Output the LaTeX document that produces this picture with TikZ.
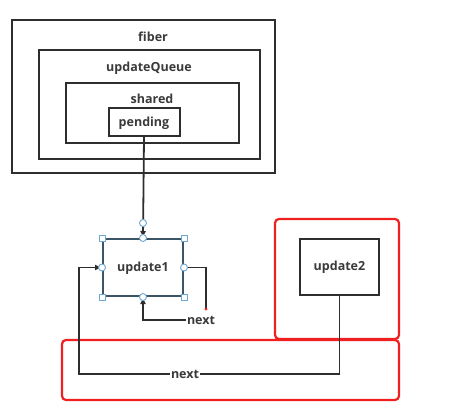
\documentclass[tikz,border=0pt]{standalone}
\usepackage{fontspec}
\setmainfont{Open Sans}
\usepackage{xcolor}
\usetikzlibrary{arrows.meta}
\definecolor{boxgray}{HTML}{2E2E2E}
\definecolor{txtgray}{HTML}{3A3A3A}
\definecolor{selblue}{HTML}{3B5566}
\definecolor{handleblue}{HTML}{6FA8D0}
\definecolor{hlred}{HTML}{F02020}

\begin{document}
\begin{tikzpicture}[x=1pt,y=-1pt,>={Latex[length=7pt,width=6pt]},
    box/.style={draw=boxgray,line width=2pt,inner sep=0pt},
    txt/.style={font=\bfseries\fontsize{12.5}{14}\selectfont,text=txtgray,inner sep=1pt},
    link/.style={draw=boxgray,line width=1.8pt},
    hsq/.style={draw=handleblue,fill=white,line width=0.9pt,minimum size=6pt,inner sep=0pt},
    hci/.style={circle,draw=handleblue,fill=white,line width=0.9pt,minimum size=7pt,inner sep=0pt},
    frame/.style={draw=hlred,line width=2.2pt,rounded corners=4pt,inner sep=0pt}]
        \useasboundingbox (0,0) rectangle (458,410);

        % nested boxes
        \node[box,minimum width=263pt,minimum height=153pt] (fiber) at (143.5,96.5) {};
        \node[box,minimum width=221pt,minimum height=109pt] (queue) at (149.5,104.5) {};
        \node[box,minimum width=173pt,minimum height=60pt] (shared) at (152.5,113) {};
        \node[box,minimum width=71pt,minimum height=28pt] (pending) at (144,122) {};
        \node[txt] (fiberlbl) at (153,37) {fiber};
        \node[txt] (queuelbl) at (149,68) {updateQueue};
        \node[txt] (sharedlbl) at (152,99) {shared};
        \node[txt] (pendinglbl) at (144,123) {pending};

        % highlight frames
        \node[frame,minimum width=124pt,minimum height=120pt] (hlup) at (337,279) {};
        \node[frame,minimum width=337pt,minimum height=60pt] (hllow) at (230.5,370) {};

        % updates
        \node[box,draw=selblue,minimum width=80pt,minimum height=57pt] (u1) at (143,267.5) {};
        \node[txt] (u1lbl) at (143,268) {update1};
        \node[box,minimum width=79pt,minimum height=56pt] (u2) at (339.5,267) {};
        \node[txt] (u2lbl) at (339.5,267) {update2};

        \node[txt,fill=white] (next1) at (201,320) {next};
        \node[txt,fill=white] (next2) at (185,374) {next};
        \coordinate (c1) at (206,309);
        \coordinate (c2) at (79,373);

        \draw[link,->] (pending.south) -- (u1.north);
        \draw[link] (u1.east) -| (c1);
        \draw[link,->] (next1.west) -| (u1.south);
        \draw[link] (u2.south) |- (next2.east);
        \draw[link,->] (next2.west) -| (c2) |- (u1.west);

        % selection handles
        \foreach \a[count=\i] in {north west,north east,south west,south east}
            \node[hsq] (hs\i) at (u1.\a) {};
        \foreach \a[count=\i] in {north,south,east,west}
            \node[hci] (hc\i) at (u1.\a) {};
        \node[hci] (hc5) at (143,223) {};
        \node[circle,fill=hlred,inner sep=1.2pt] (dot) at (c1) {};
    \end{tikzpicture}
\end{document}
